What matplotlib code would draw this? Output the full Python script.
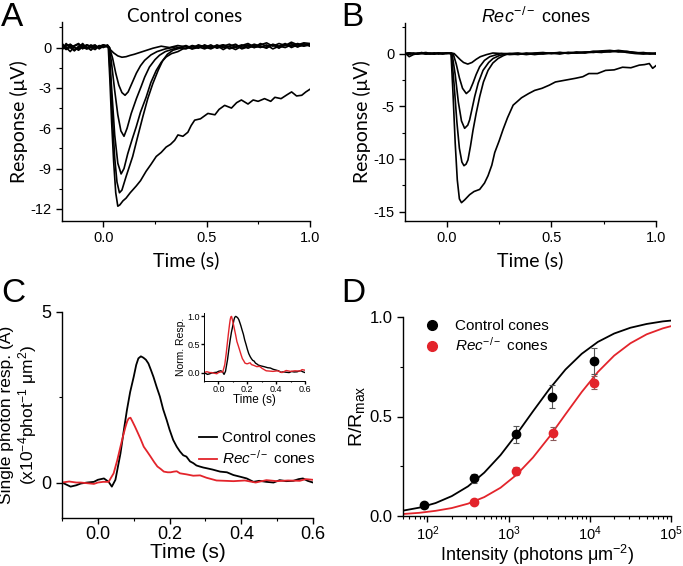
import numpy as np
import matplotlib
matplotlib.use("Agg")
import matplotlib.pyplot as plt
from matplotlib.ticker import MultipleLocator, LogLocator, NullFormatter
from matplotlib.lines import Line2D

plt.rcParams['font.family'] = ['Liberation Sans', 'DejaVu Sans']
plt.rcParams['mathtext.fontset'] = 'custom'
plt.rcParams['mathtext.rm'] = 'Liberation Sans'
plt.rcParams['mathtext.it'] = 'Liberation Sans:italic'
plt.rcParams['axes.unicode_minus'] = False

RED = '#e3242b'

# ---------------- panel A: control cones (time s, response uV) ----------------
pre_t = [-0.2, -0.18, -0.16, -0.14, -0.12, -0.10, -0.08, -0.06, -0.04, -0.02, 0.0, 0.02]
a_tail_t = [0.40, 0.43, 0.46, 0.49, 0.52, 0.55, 0.58, 0.61, 0.64, 0.67, 0.70,
            0.73, 0.76, 0.79, 0.82, 0.85, 0.88, 0.91, 0.94, 0.97, 1.0]

a1_t = pre_t + [0.03, 0.05, 0.07, 0.09, 0.11, 0.13, 0.15, 0.18, 0.21, 0.24, 0.28, 0.32, 0.36] + a_tail_t
a1_y = ([0.1, -0.15, 0.2, 0.0, -0.1, 0.15, 0.05, -0.2, 0.1, 0.0, 0.1, 0.05]
        + [-0.1, -0.4, -0.62, -0.72, -0.68, -0.58, -0.5, -0.35, -0.2, -0.05, 0.1, 0.0, 0.15]
        + [0.05, -0.1, 0.15, 0.0, 0.2, -0.05, 0.1, 0.25, 0.0, 0.15, 0.3, 0.05, 0.2, 0.35, 0.1,
           0.3, 0.15, 0.4, 0.2, 0.35, 0.3])

a2_t = pre_t + [0.03, 0.045, 0.06, 0.075, 0.09, 0.105, 0.12, 0.14, 0.16, 0.18, 0.2, 0.23, 0.26, 0.3, 0.35] + a_tail_t
a2_y = ([-0.2, 0.3, 0.0, -0.25, 0.1, 0.2, -0.1, 0.0, 0.15, -0.05, 0.2, 0.1]
        + [0.0, -0.8, -1.9, -2.8, -3.35, -3.55, -3.3, -2.6, -1.9, -1.35, -0.95, -0.55, -0.3, -0.1, 0.05]
        + [-0.1, 0.1, -0.05, 0.2, 0.0, 0.15, -0.15, 0.1, 0.25, -0.05, 0.15, 0.0, 0.3, 0.1,
           0.2, -0.05, 0.25, 0.1, 0.3, 0.15, 0.25])

a3_t = pre_t + [0.03, 0.04, 0.055, 0.07, 0.085, 0.1, 0.115, 0.135, 0.16, 0.183, 0.2, 0.223, 0.25,
                0.272, 0.3, 0.34, 0.37] + a_tail_t
a3_y = ([0.3, 0.0, -0.3, 0.1, 0.25, -0.1, 0.2, 0.0, -0.15, 0.1, 0.0, 0.2]
        + [0.0, -1.2, -3.2, -5.0, -6.2, -6.6, -6.0, -4.9, -3.8, -2.9, -2.2, -1.45, -0.9, -0.57,
           -0.3, -0.1, 0.0]
        + [0.15, -0.05, 0.2, 0.05, -0.1, 0.1, 0.2, -0.1, 0.05, 0.2, -0.05, 0.15, 0.0, 0.2,
           -0.1, 0.1, 0.3, 0.0, 0.2, 0.1, 0.2])

a4_t = pre_t + [0.028, 0.04, 0.055, 0.07, 0.086, 0.1, 0.118, 0.14, 0.159, 0.18, 0.207, 0.23, 0.256,
                0.28, 0.304, 0.33, 0.361, 0.385] + a_tail_t
a4_y = ([0.0, 0.2, 0.1, -0.2, 0.0, 0.3, -0.05, 0.1, 0.2, -0.1, 0.1, 0.15]
        + [0.0, -3.0, -6.5, -8.6, -9.4, -9.0, -7.9, -6.8, -5.9, -4.8, -3.7, -2.6, -1.7, -1.1,
           -0.7, -0.45, -0.3, -0.1]
        + [-0.05, 0.15, 0.05, -0.1, 0.1, 0.0, 0.2, 0.05, -0.15, 0.1, 0.2, 0.0, 0.1, -0.05,
           0.25, 0.1, 0.0, 0.2, 0.05, 0.3, 0.1])

a5_t = pre_t + [0.026, 0.035, 0.045, 0.055, 0.066, 0.078, 0.09, 0.11, 0.142, 0.165, 0.191, 0.215,
                0.239, 0.265, 0.288, 0.31, 0.337, 0.37] + a_tail_t
a5_y = ([-0.1, 0.1, 0.25, 0.0, -0.2, 0.05, 0.2, 0.1, -0.05, 0.15, 0.05, 0.1]
        + [0.0, -2.5, -5.5, -8.2, -10.0, -10.8, -10.6, -9.6, -8.1, -6.7, -5.15, -3.8, -2.7, -1.7,
           -0.95, -0.5, -0.2, -0.05]
        + [0.1, -0.1, 0.0, 0.15, -0.05, 0.2, 0.0, 0.1, 0.2, -0.1, 0.05, 0.25, 0.1, 0.0, 0.2,
           0.05, 0.15, 0.3, 0.05, 0.2, 0.15])

a6_t = pre_t + [0.024, 0.032, 0.04, 0.05, 0.06, 0.07, 0.08, 0.095, 0.11, 0.13, 0.159, 0.18, 0.207,
                0.23, 0.256, 0.28, 0.304, 0.325, 0.345, 0.361, 0.385,
                0.409, 0.425, 0.442, 0.47, 0.506, 0.54, 0.56, 0.587, 0.62, 0.645, 0.668, 0.7,
                0.725, 0.749, 0.78, 0.81, 0.83, 0.86, 0.89, 0.911, 0.935, 0.96, 0.98, 1.0]
a6_y = ([0.2, -0.1, 0.0, 0.15, 0.3, 0.0, -0.1, 0.2, 0.0, 0.1, 0.2, 0.1]
        + [0.0, -2.5, -5.5, -8.5, -10.8, -11.8, -11.7, -11.4, -11.2, -10.8, -10.3, -9.9, -9.2,
           -8.7, -8.1, -7.8, -7.4, -7.2, -6.9, -6.5, -6.6,
           -6.3, -5.8, -5.4, -5.3, -4.9, -5.0, -4.6, -4.3, -4.5, -4.1, -3.9, -4.2, -3.9, -4.0,
           -3.8, -4.0, -3.7, -3.8, -3.5, -3.3, -3.6, -3.55, -3.3, -3.1])

# ---------------- panel B: Rec-/- cones ----------------
b_tail_t = [0.3, 0.34, 0.38, 0.42, 0.46, 0.5, 0.54, 0.58, 0.62, 0.66, 0.7, 0.74, 0.78, 0.82,
            0.86, 0.9, 0.94, 0.97, 1.0]

b1_t = pre_t + [0.035, 0.05, 0.065, 0.08, 0.1, 0.12, 0.14, 0.16, 0.19, 0.22, 0.26] + b_tail_t
b1_y = ([0.0, -0.1, 0.05, 0.0, 0.1, -0.05, 0.0, 0.05, -0.05, 0.0, 0.05, 0.0]
        + [0.0, -0.3, -0.6, -0.85, -1.0, -0.85, -0.55, -0.3, -0.1, 0.05, 0.0]
        + [0.0, 0.05, -0.05, 0.05, 0.1, 0.0, 0.1, 0.05, 0.15, 0.1, 0.2, 0.25, 0.3, 0.2, 0.15,
           0.05, 0.1, 0.0, 0.05])

b2_t = pre_t + [0.03, 0.045, 0.06, 0.075, 0.093, 0.11, 0.125, 0.14, 0.157, 0.18, 0.205, 0.23, 0.26] + b_tail_t
b2_y = ([0.05, -0.3, -0.1, 0.0, 0.05, 0.0, -0.05, 0.05, 0.0, 0.05, 0.0, 0.05]
        + [0.0, -1.0, -2.3, -3.3, -3.8, -3.5, -2.8, -2.0, -1.25, -0.65, -0.3, -0.15, 0.0]
        + [-0.1, -0.05, 0.0, -0.1, 0.0, 0.05, -0.05, 0.1, 0.05, 0.15, 0.1, 0.2, 0.15, 0.25,
           0.1, 0.0, -0.05, 0.0, 0.0])

b3_t = pre_t + [0.025, 0.04, 0.055, 0.07, 0.085, 0.1, 0.109, 0.12, 0.133, 0.15, 0.173, 0.2, 0.221,
                0.25, 0.28] + b_tail_t
b3_y = ([-0.05, 0.05, 0.0, -0.05, 0.05, 0.1, 0.0, -0.05, 0.05, 0.0, 0.0, 0.05]
        + [0.0, -2.0, -4.6, -6.4, -7.1, -6.8, -6.3, -5.3, -4.1, -2.8, -1.6, -0.85, -0.47, -0.2, -0.05]
        + [0.0, -0.1, 0.05, 0.0, -0.05, 0.05, 0.1, 0.0, 0.1, 0.05, 0.15, 0.1, 0.25, 0.15, 0.2,
           0.1, 0.0, 0.05, -0.05])

b4_t = pre_t + [0.022, 0.035, 0.048, 0.06, 0.072, 0.082, 0.092, 0.101, 0.113, 0.125, 0.14, 0.157,
                0.175, 0.197, 0.22, 0.245, 0.27, 0.29] + b_tail_t
b4_y = ([0.0, 0.05, -0.05, 0.05, 0.0, -0.05, 0.05, 0.0, 0.05, -0.05, 0.05, 0.0]
        + [0.0, -3.0, -6.5, -9.0, -10.3, -10.65, -10.5, -10.1, -8.8, -7.3, -5.7, -4.1, -2.7,
           -1.6, -0.9, -0.47, -0.2, -0.05]
        + [-0.05, 0.0, -0.1, 0.0, 0.05, 0.0, 0.05, 0.1, 0.05, 0.1, 0.2, 0.15, 0.2, 0.3, 0.2,
           0.1, 0.05, -0.05, 0.0])

b5_t = pre_t + [0.02, 0.03, 0.04, 0.05, 0.06, 0.07, 0.085, 0.109, 0.13, 0.157, 0.18, 0.197, 0.215,
                0.229, 0.25, 0.269, 0.29, 0.317, 0.34, 0.357, 0.391, 0.42, 0.455, 0.49, 0.519,
                0.56, 0.615, 0.65, 0.679, 0.72, 0.759, 0.8, 0.84, 0.88, 0.92, 0.945, 0.968,
                0.984, 1.0]
b5_y = ([0.0, 0.05, 0.0, -0.05, 0.0, 0.05, 0.0, -0.05, 0.05, 0.0, 0.05, 0.0]
        + [0.0, -4.0, -8.5, -12.0, -13.8, -14.16, -13.9, -13.4, -13.1, -12.9, -12.3, -11.6,
           -10.6, -9.4, -8.3, -7.2, -6.1, -4.9, -4.5, -4.2, -3.8, -3.5, -3.3, -3.0, -2.7, -2.55,
           -2.35, -2.2, -1.9, -1.9, -1.6, -1.55, -1.3, -1.35, -1.1, -1.05, -0.95, -1.4, -1.15])

# ---------------- panel C: single photon responses ----------------
c_black_t = [-0.1, -0.09, -0.076, -0.06, -0.048, -0.03, -0.011, 0.0, 0.017, 0.03, 0.039, 0.049,
             0.063, 0.072, 0.081, 0.09, 0.1, 0.107, 0.113, 0.12, 0.127, 0.134, 0.141, 0.148,
             0.155, 0.164, 0.173, 0.182, 0.192, 0.2, 0.21, 0.22, 0.229, 0.238, 0.247, 0.257,
             0.266, 0.275, 0.284, 0.294, 0.303, 0.32, 0.341, 0.36, 0.378, 0.397, 0.415, 0.434,
             0.45, 0.47, 0.49, 0.507, 0.525, 0.545, 0.56, 0.572, 0.585, 0.6]
c_black_y = [0.0, -0.05, -0.12, -0.08, -0.03, 0.0, 0.02, 0.08, 0.12, 0.02, -0.12, 0.08,
             0.85, 1.5, 2.12, 2.65, 3.1, 3.45, 3.64, 3.7, 3.66, 3.6, 3.49, 3.3,
             3.1, 2.8, 2.52, 2.15, 1.83, 1.55, 1.25, 1.05, 0.91, 0.8, 0.76, 0.62,
             0.57, 0.5, 0.47, 0.44, 0.42, 0.38, 0.32, 0.3, 0.22, 0.17, 0.12, 0.02,
             0.05, 0.02, 0.0, 0.07, 0.04, 0.05, 0.1, 0.12, 0.05, 0.0]
c_red_t = [-0.1, -0.08, -0.06, -0.048, -0.03, -0.011, 0.0, 0.015, 0.03, 0.044, 0.054, 0.063,
           0.07, 0.077, 0.082, 0.086, 0.091, 0.096, 0.103, 0.11, 0.119, 0.128, 0.138, 0.147,
           0.157, 0.166, 0.175, 0.184, 0.195, 0.203, 0.212, 0.22, 0.229, 0.247, 0.266, 0.285,
           0.303, 0.331, 0.355, 0.378, 0.41, 0.44, 0.47, 0.5, 0.53, 0.563, 0.58, 0.6]
c_red_y = [0.0, 0.03, 0.0, 0.0, -0.02, -0.04, 0.0, 0.02, 0.02, 0.27, 0.65, 1.05,
           1.35, 1.63, 1.8, 1.88, 1.9, 1.8, 1.65, 1.49, 1.28, 1.05, 0.9, 0.76,
           0.6, 0.47, 0.4, 0.32, 0.3, 0.3, 0.32, 0.33, 0.27, 0.24, 0.2, 0.21,
           0.14, 0.06, 0.05, 0.04, 0.06, 0.0, 0.07, 0.04, 0.06, 0.05, 0.1, 0.08]

# ---------------- panel D: intensity-response ----------------
d_ctrl_x = [90, 370, 1250, 3400, 11200]
d_ctrl_y = [0.057, 0.19, 0.41, 0.60, 0.78]
d_ctrl_err = [0.01, 0.022, 0.042, 0.059, 0.065]
d_rec_x = [370, 1250, 3500, 11300]
d_rec_y = [0.072, 0.227, 0.415, 0.67]
d_rec_err = [0.006, 0.02, 0.032, 0.032]

fit_x = [50.1, 79.4, 125.9, 199.5, 316.2, 501.2, 794.3, 1258.9, 1995, 3162, 5012, 7943,
         12589, 19953, 31623, 50119, 79433, 100000]
fit_ctrl = [0.027, 0.042, 0.065, 0.100, 0.149, 0.218, 0.306, 0.412, 0.526, 0.637, 0.736,
            0.815, 0.875, 0.917, 0.946, 0.965, 0.978, 0.982]
fit_rec = [0.010, 0.016, 0.026, 0.040, 0.062, 0.095, 0.142, 0.208, 0.294, 0.397, 0.511,
           0.623, 0.724, 0.806, 0.868, 0.913, 0.943, 0.954]


def style(ax, major=4, minor=2.5):
    ax.spines['top'].set_visible(False)
    ax.spines['right'].set_visible(False)
    for s in ['left', 'bottom']:
        ax.spines[s].set_linewidth(1.0)
    ax.tick_params(which='major', direction='out', length=major, width=1.0)
    ax.tick_params(which='minor', direction='out', length=minor, width=0.8)


W, H = 683, 566
fig = plt.figure(figsize=(W / 100, H / 100), dpi=100)


def box(l, t, r, b):
    return [l / W, 1 - b / H, (r - l) / W, (b - t) / H]


lab = dict(family=['Lato', 'DejaVu Sans'], fontsize=14)

# A
ax = fig.add_axes(box(62, 22, 310, 221))
for t, y in [(a1_t, a1_y), (a2_t, a2_y), (a3_t, a3_y), (a4_t, a4_y), (a5_t, a5_y), (a6_t, a6_y)]:
    ax.plot(t, y, color='black', lw=1.2)
ax.set_xlim(-0.2, 1.0)
ax.set_ylim(-12.9, 1.9)
ax.xaxis.set_major_locator(MultipleLocator(0.5))
ax.xaxis.set_minor_locator(MultipleLocator(0.25))
ax.yaxis.set_minor_locator(MultipleLocator(1.5))
ax.set_yticks([-12, -9, -6, -3, 0])
ax.xaxis.set_major_formatter(plt.FormatStrFormatter('%.1f'))
ax.tick_params(labelsize=10.5)
style(ax)
ax.set_xlabel('Time (s)', **lab)
ax.set_ylabel('Response (μV)', **lab, labelpad=2)
fig.text(185 / W, 1 - 17 / H, 'Control cones', ha='center', va='center',
         family=['Lato', 'DejaVu Sans'], fontsize=13.5)

# B
ax = fig.add_axes(box(405, 23, 656, 221))
for t, y in [(b1_t, b1_y), (b2_t, b2_y), (b3_t, b3_y), (b4_t, b4_y), (b5_t, b5_y)]:
    ax.plot(t, y, color='black', lw=1.2)
ax.set_xlim(-0.2, 1.0)
ax.set_ylim(-15.9, 2.9)
ax.xaxis.set_major_locator(MultipleLocator(0.5))
ax.xaxis.set_minor_locator(MultipleLocator(0.25))
ax.yaxis.set_minor_locator(MultipleLocator(2.5))
ax.set_yticks([-15, -10, -5, 0])
ax.xaxis.set_major_formatter(plt.FormatStrFormatter('%.1f'))
ax.tick_params(labelsize=10.5)
style(ax)
ax.set_xlabel('Time (s)', **lab)
ax.set_ylabel('Response (μV)', **lab, labelpad=2)
fig.text(536 / W, 1 - 17 / H, r'$\mathit{Rec}^{-/-}$ cones', ha='center', va='center',
         fontsize=13)

# C
ax = fig.add_axes(box(62, 312, 313, 518))
ax.plot(c_black_t, c_black_y, color='black', lw=1.3, label='Control cones')
ax.plot(c_red_t, c_red_y, color=RED, lw=1.3, label=r'$\mathit{Rec}^{-/-}$ cones')
ax.set_xlim(-0.1, 0.6)
ax.set_ylim(-1.04, 5.0)
ax.xaxis.set_major_locator(MultipleLocator(0.2))
ax.xaxis.set_minor_locator(MultipleLocator(0.1))
ax.set_yticks([0, 5])
ax.yaxis.set_minor_locator(MultipleLocator(2.5))
ax.xaxis.set_major_formatter(plt.FormatStrFormatter('%.1f'))
ax.tick_params(labelsize=13)
ax.tick_params(axis='x', pad=2)
style(ax)
ax.set_xlabel('Time (s)', fontsize=15, labelpad=0)
ax.set_ylabel('Single photon resp. (A)\n(x10$^{-4}$phot$^{-1}$ μm$^{2}$)', fontsize=12.5,
              labelpad=2, linespacing=1.1)
ax.legend(loc='upper left', bbox_to_anchor=(0.52, 0.45), frameon=False, fontsize=11,
          handlelength=1.2, handletextpad=0.3, labelspacing=0.25, borderaxespad=0)

# inset
ins = fig.add_axes(box(204, 313, 305, 381))
ins.plot(c_black_t, np.array(c_black_y) / max(c_black_y), color='black', lw=1.0)
ins.plot(c_red_t, np.array(c_red_y) / max(c_red_y), color=RED, lw=1.0)
ins.set_xlim(-0.1, 0.6)
ins.set_ylim(-0.15, 1.06)
ins.xaxis.set_major_locator(MultipleLocator(0.2))
ins.xaxis.set_minor_locator(MultipleLocator(0.1))
ins.set_yticks([0, 0.5, 1.0])
ins.xaxis.set_major_formatter(plt.FormatStrFormatter('%.1f'))
ins.yaxis.set_major_formatter(plt.FormatStrFormatter('%.1f'))
ins.tick_params(labelsize=6.5, pad=1)
style(ins, major=2, minor=1)
for s in ['left', 'bottom']:
    ins.spines[s].set_linewidth(0.7)
ins.set_xlabel('Time (s)', fontsize=8.5, labelpad=0)
ins.set_ylabel('Norm. Resp.', fontsize=7.5, labelpad=1)

# D
ax = fig.add_axes(box(403, 317, 671, 516))
ax.set_xscale('log')
ax.plot(fit_x, fit_ctrl, color='black', lw=1.3)
ax.plot(fit_x, fit_rec, color=RED, lw=1.3)
ax.errorbar(d_ctrl_x, d_ctrl_y, yerr=d_ctrl_err, fmt='none', ecolor='#555555', elinewidth=0.8,
            capsize=2, capthick=0.8)
ax.errorbar(d_rec_x, d_rec_y, yerr=d_rec_err, fmt='none', ecolor='#8a5a5a', elinewidth=0.8,
            capsize=2, capthick=0.8)
ax.plot(d_ctrl_x, d_ctrl_y, 'o', color='black', ms=6, zorder=3)
ax.plot(d_rec_x, d_rec_y, 'o', color=RED, ms=6, zorder=3)
ax.set_xlim(50, 1e5)
ax.set_ylim(0, 1.0)
ax.set_yticks([0, 0.5, 1.0])
ax.yaxis.set_minor_locator(MultipleLocator(0.25))
ax.yaxis.set_major_formatter(plt.FormatStrFormatter('%.1f'))
ax.xaxis.set_major_locator(LogLocator(base=10, numticks=10))
ax.xaxis.set_minor_locator(LogLocator(base=10, subs=np.arange(2, 10), numticks=20))
ax.xaxis.set_minor_formatter(NullFormatter())
ax.tick_params(labelsize=12)
ax.tick_params(axis='x', labelsize=10.5, pad=2)
style(ax)
ax.set_xlabel('Intensity (photons μm$^{-2}$)', fontsize=13, labelpad=0)
ax.set_ylabel('R/R$_{\\mathrm{max}}$', fontsize=14, labelpad=2)
handles = [Line2D([], [], marker='o', ls='none', color='black', ms=7),
           Line2D([], [], marker='o', ls='none', color=RED, ms=7)]
ax.legend(handles, ['Control cones', r'$\mathit{Rec}^{-/-}$ cones'], loc='upper left',
          bbox_to_anchor=(0.03, 1.02), frameon=False, fontsize=11, handletextpad=0.5,
          labelspacing=0.2, borderaxespad=0)

# panel letters
for x, y, s in [(1, 2, 'A'), (341, 2, 'B'), (1, 278, 'C'), (341, 278, 'D')]:
    fig.text(x / W, 1 - y / H, s, fontsize=24, va='top', ha='left')

fig.savefig('out.png', dpi=100)
